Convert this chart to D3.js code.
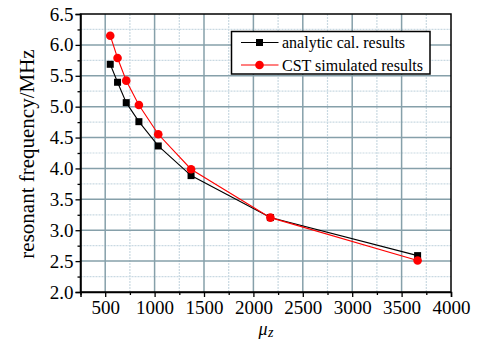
<!DOCTYPE html>
<html>
<head>
<meta charset="utf-8">
<script src="https://cdn.jsdelivr.net/npm/d3@7"></script>
<style>
  body { margin: 0; background: #fff; }
  svg text { font-family: "Liberation Serif", Tinos, "Times New Roman", Times, "DejaVu Serif", serif; fill: #000; }
</style>
</head>
<body>
<svg id="chart" width="485" height="342"></svg>
<script>
const muZ = [551, 625, 713, 841, 1037, 1369, 2172, 3662];
const analytic = [5.686, 5.395, 5.065, 4.757, 4.364, 3.884, 3.205, 2.589];
const cst = [6.149, 5.788, 5.421, 5.028, 4.553, 3.987, 3.204, 2.51];
const xTicks = [500, 1000, 1500, 2000, 2500, 3000, 3500, 4000];
const yTicks = [2.0, 2.5, 3.0, 3.5, 4.0, 4.5, 5.0, 5.5, 6.0, 6.5];
const seriesNames = ['analytic cal. results', 'CST simulated results'];

const svg = d3.select('#chart');
const margin = { top: 14, right: 34, bottom: 50, left: 80.5 };
const W = 485 - margin.left - margin.right;
const H = 342 - margin.top - margin.bottom;

const x = d3.scaleLinear().domain([250, 4000]).range([0, W]);
const y = d3.scaleLinear().domain([2.0, 6.5]).range([H, 0]);

const g = svg.append('g').attr('transform', `translate(${margin.left},${margin.top})`);

// minor grid (dotted)
const xMinor = d3.range(250, 4001, 250).filter(v => v % 500 !== 0);
const yMinor = d3.range(2.25, 6.5, 0.5);
g.append('g').selectAll('line').data(xMinor).enter().append('line')
  .attr('x1', d => x(d)).attr('x2', d => x(d)).attr('y1', 0).attr('y2', H)
  .attr('stroke', '#c9d9e2').attr('stroke-width', 1.2).attr('stroke-dasharray', '2,1');
g.append('g').selectAll('line').data(yMinor).enter().append('line')
  .attr('y1', d => y(d)).attr('y2', d => y(d)).attr('x1', 0).attr('x2', W)
  .attr('stroke', '#c9d9e2').attr('stroke-width', 1.2).attr('stroke-dasharray', '2,1');

// major grid
g.append('g').selectAll('line').data(xTicks.filter(v => v < 4000)).enter().append('line')
  .attr('x1', d => x(d)).attr('x2', d => x(d)).attr('y1', 0).attr('y2', H)
  .attr('stroke', '#86a0aa').attr('stroke-width', 1.5);
g.append('g').selectAll('line').data(yTicks.filter(v => v > 2 && v < 6.5)).enter().append('line')
  .attr('y1', d => y(d)).attr('y2', d => y(d)).attr('x1', 0).attr('x2', W)
  .attr('stroke', '#86a0aa').attr('stroke-width', 1.5);

// frame
g.append('rect').attr('width', W).attr('height', H)
  .attr('fill', 'none').attr('stroke', '#000').attr('stroke-width', 1.5);

// axes
const xAxis = g.append('g').attr('transform', `translate(0,${H})`)
  .call(d3.axisBottom(x).tickValues(xTicks).tickFormat(d3.format('d')).tickSize(5).tickPadding(4));
g.append('g').attr('transform', `translate(0,${H})`)
  .call(d3.axisBottom(x).tickValues(xMinor).tickFormat('').tickSize(3))
  .call(a => a.select('.domain').remove());
const yAxis = g.append('g')
  .call(d3.axisLeft(y).tickValues(yTicks).tickFormat(d3.format('.1f')).tickSize(5).tickPadding(2));
g.append('g')
  .call(d3.axisLeft(y).tickValues(yMinor).tickFormat('').tickSize(3))
  .call(a => a.select('.domain').remove());
g.selectAll('.domain').attr('stroke-width', 1.5);
g.selectAll('.tick line').attr('stroke-width', 1.3);
xAxis.selectAll('text').attr('font-size', 19);
yAxis.selectAll('text').attr('font-size', 19);

// lines + markers
const line = d3.line().x(d => x(d[0])).y(d => y(d[1]));
const blackPts = muZ.map((m, i) => [m, analytic[i]]);
const redPts = muZ.map((m, i) => [m, cst[i]]);
g.append('path').datum(blackPts).attr('d', line).attr('fill', 'none').attr('stroke', '#000').attr('stroke-width', 1.1);
g.append('path').datum(redPts).attr('d', line).attr('fill', 'none').attr('stroke', '#ff0000').attr('stroke-width', 1.1);
g.append('g').selectAll('rect').data(blackPts).enter().append('rect')
  .attr('x', d => x(d[0]) - 3.5).attr('y', d => y(d[1]) - 3.5)
  .attr('width', 7).attr('height', 7).attr('fill', '#000');
g.append('g').selectAll('circle').data(redPts).enter().append('circle')
  .attr('cx', d => x(d[0])).attr('cy', d => y(d[1])).attr('r', 4.3).attr('fill', '#ff0000');

// legend
const lg = svg.append('g').attr('transform', 'translate(231.5,31.5)');
lg.append('rect').attr('width', 198.5).attr('height', 42.5)
  .attr('fill', '#fff').attr('stroke', '#000').attr('stroke-width', 1.5);
seriesNames.forEach((name, i) => {
  const cy = 11 + i * 22.5;
  const col = i === 0 ? '#000' : '#ff0000';
  lg.append('line').attr('x1', 9.5).attr('x2', 47).attr('y1', cy).attr('y2', cy)
    .attr('stroke', col).attr('stroke-width', 1.1);
  if (i === 0) {
    lg.append('rect').attr('x', 24.5).attr('y', cy - 3.5).attr('width', 7).attr('height', 7).attr('fill', col);
  } else {
    lg.append('circle').attr('cx', 28).attr('cy', cy).attr('r', 4.3).attr('fill', col);
  }
  lg.append('text').attr('x', 50.5).attr('y', cy + 5.5).attr('font-size', 16).text(name);
});

// axis titles
svg.append('text')
  .attr('transform', `translate(34,${margin.top + H / 2 + 1}) rotate(-90)`)
  .attr('text-anchor', 'middle').attr('font-size', 21)
  .text('resonant frequency/MHz');
const xt = svg.append('text').attr('x', 258.5).attr('y', 335)
  .attr('font-size', 18).attr('font-style', 'italic');
xt.append('tspan').text('μ');
xt.append('tspan').attr('dx', 0.5).attr('dy', 2).attr('font-size', 14).text('z');
</script>
</body>
</html>
